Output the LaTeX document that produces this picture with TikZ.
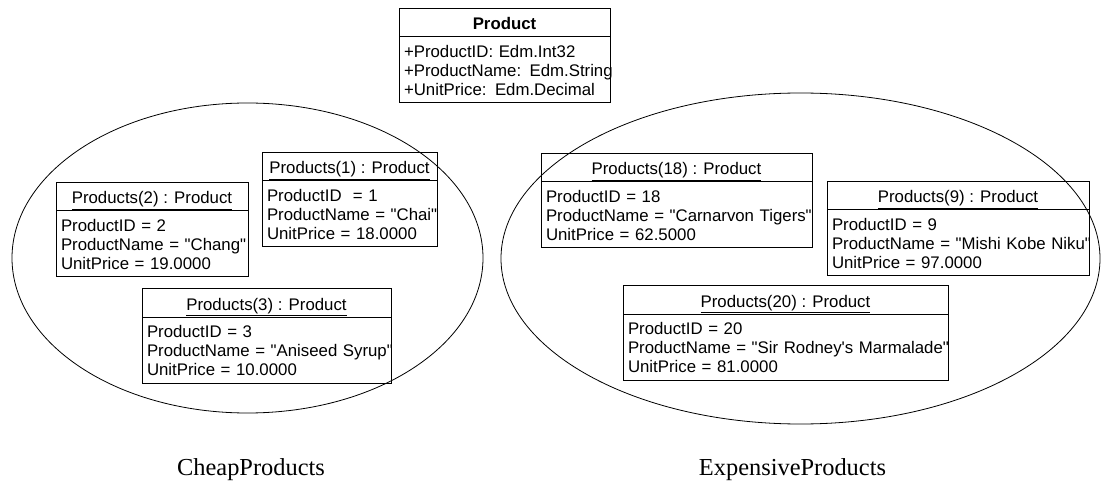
\documentclass[tikz,border=0pt]{standalone}
\usepackage{fontspec}
\setmainfont{Liberation Sans}[Ligatures=TeXOff]
\newfontfamily\serifface{Liberation Serif}
\newcommand\objfont{\fontsize{16.8}{19}\selectfont}
\newcommand\labfont{\serifface\fontsize{24.4}{28}\selectfont}
\newcommand\threelines[3]{\mbox{#1}\\\mbox{#2}\\\mbox{#3}}
\tikzset{
  boxbase/.style={draw, line width=1pt, inner sep=0pt, outer sep=0pt, anchor=north west},
  hdr/.style={boxbase, minimum height=28pt, align=center, font=\objfont, text height=14pt, text depth=0pt},
  bdy/.style={boxbase, minimum height=66pt, align=left, inner xsep=5pt, font=\objfont},
  ell/.style={line width=0.8pt},
  lab/.style={font=\labfont, anchor=base, inner sep=0pt}
}
% #1 name, #2 left x, #3 top y, #4 width, #5 title, #6 body lines
\newcommand\objbox[6]{%
  \pgfmathsetmacro\objtw{#4-10}%
  \node[hdr, minimum width=#4pt] (#1h) at (#2,#3) {#5};
  \node[bdy, minimum width=#4pt, text width=\objtw pt] (#1b) at (#1h.south west) {#6};
}
\begin{document}
\begin{tikzpicture}[x=1pt, y=-1pt]
\useasboundingbox (0,0) rectangle (1101,481);

% collections
\draw[ell] (247.5,258) ellipse [x radius=235.5pt, y radius=155pt];
\draw[ell] (800.5,258.5) ellipse [x radius=299.5pt, y radius=165.5pt];

% class
\objbox{cls}{399}{9}{211}{\textbf{Product}}{\threelines{+ProductID: Edm.Int32}{+ProductName: Edm.String}{+UnitPrice: Edm.Decimal}}

% cheap products
\objbox{pa}{262}{153}{175}{\underline{Products(1) : Product}}{\threelines{ProductID\ \ = 1}{ProductName = "Chai"}{UnitPrice = 18.0000}}
\objbox{pb}{56}{183}{192}{\underline{Products(2) : Product}}{\threelines{ProductID = 2}{ProductName = "Chang"}{UnitPrice = 19.0000}}
\objbox{pc}{142}{289}{249}{\underline{Products(3) : Product}}{\threelines{ProductID = 3}{ProductName = "Aniseed Syrup"}{UnitPrice = 10.0000}}

% expensive products
\objbox{pd}{541}{154}{271}{\underline{Products(18) : Product}}{\threelines{ProductID = 18}{ProductName = "Carnarvon Tigers"}{UnitPrice = 62.5000}}
\objbox{pe}{827}{182}{262}{\underline{Products(9) : Product}}{\threelines{ProductID = 9}{ProductName = "Mishi Kobe Niku"}{UnitPrice = 97.0000}}
\objbox{pf}{623}{286}{325}{\underline{Products(20) : Product}}{\threelines{ProductID = 20}{ProductName = "Sir Rodney's Marmalade"}{UnitPrice = 81.0000}}

% labels
\node[lab] (cheap) at (251,475) {CheapProducts};
\node[lab] (expensive) at (792.5,475) {ExpensiveProducts};
\end{tikzpicture}
\end{document}
